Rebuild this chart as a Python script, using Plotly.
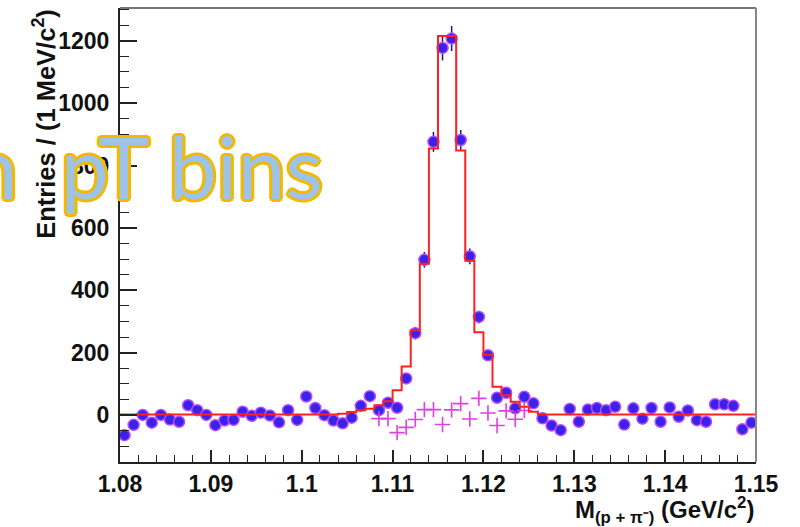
import numpy as np
import plotly.graph_objects as go

# Invariant mass binning: 70 bins of 1 MeV/c^2 between 1.08 and 1.15 GeV/c^2
mass_lo, mass_hi, n_bins = 1.08, 1.15, 70
bin_edges = np.linspace(mass_lo, mass_hi, n_bins + 1)
bin_centers = 0.5 * (bin_edges[:-1] + bin_edges[1:])

# Background-subtracted data (entries per bin)
data_counts = [
    -64, -31, 1, -24, 1, -14, -21, 32, 16, 1,
    -32, -17, -15, 11, -2, 8, -1, -23, 16, -15,
    60, 23, 0, -17, -26, -8, 30, 61, 16, 40,
    24, 118, 263, 498, 876, 1177, 1207, 882, 509, 315,
    192, 56, 72, 22, 59, 38, -10, -33, -48, 20,
    -21, 18, 23, 16, 27, -30, 22, -11, 23, -21,
    25, -5, 15, -16, -21, 35, 35, 30, -45, -24,
]
data_errors = [
    14, 14, 14, 14, 14, 14, 14, 14, 14, 14,
    14, 14, 14, 14, 14, 14, 14, 14, 14, 14,
    14, 14, 14, 14, 14, 14, 14, 14, 14, 14,
    15, 17, 20, 25, 32, 40, 40, 32, 25, 20,
    17, 15, 14, 14, 14, 14, 14, 14, 14, 14,
    14, 14, 14, 14, 14, 14, 14, 14, 14, 14,
    14, 14, 14, 14, 14, 14, 14, 14, 14, 14,
]

# Signal template (step histogram)
model_counts = [
    2, 2, 2, 2, 2, 2, 2, 2, 2, 2,
    2, 2, 2, 2, 2, 2, 2, 2, 2, 2,
    2, 2, 2, 2, 5, 10, 16, 21, 32, 45,
    80, 156, 272, 485, 855, 1215, 1215, 848, 495, 266,
    194, 91, 64, 43, 27, 11, 2, 2, 2, 2,
    2, 2, 2, 2, 2, 2, 2, 2, 2, 2,
    2, 2, 2, 2, 2, 2, 2, 2, 2, 2,
]

# Residual entries in the peak window (bins 28..44)
resid_first_bin = 28
resid_counts = [-11, -11, -56, -39, -14, 18, 18, -30, 17, 37, -12, 54, 7, -33, 14, -13, 15]

y_ticks = [0, 200, 400, 600, 800, 1000, 1200]
x_ticks = [1.08, 1.09, 1.10, 1.11, 1.12, 1.13, 1.14, 1.15]
x_tick_text = ["1.08", "1.09", "1.1", "1.11", "1.12", "1.13", "1.14", "1.15"]

fig = go.Figure()

fig.add_trace(go.Scatter(
    x=bin_centers, y=data_counts, mode="markers",
    marker=dict(symbol="circle", size=11, color="#3a22e8",
                line=dict(color="#b64cff", width=1.5)),
    error_y=dict(type="data", array=data_errors, visible=True,
                 color="#1b1a70", thickness=1.5, width=0),
    showlegend=False,
))

resid_x = bin_centers[resid_first_bin:resid_first_bin + len(resid_counts)]
fig.add_trace(go.Scatter(
    x=resid_x, y=resid_counts, mode="markers",
    marker=dict(symbol="cross-thin", size=11,
                line=dict(color="#e040e0", width=1.6)),
    showlegend=False,
))

fig.add_trace(go.Scatter(
    x=bin_edges, y=list(model_counts) + [model_counts[-1]],
    mode="lines", line=dict(color="#ff2020", width=2, shape="hv"),
    showlegend=False,
))

tick_font = dict(family="Liberation Sans", size=23, color="#111111", weight="bold")

fig.update_xaxes(
    range=[mass_lo, mass_hi], tickvals=x_ticks, ticktext=x_tick_text,
    ticks="inside", ticklen=12, tickwidth=1.5, tickcolor="#222",
    minor=dict(dtick=0.002, ticks="inside", ticklen=7, tickwidth=1.2, tickcolor="#222"),
    showline=True, linecolor="#222", linewidth=2,
    showgrid=False, zeroline=False, tickfont=tick_font, ticklabelstandoff=0,
)
fig.update_yaxes(
    range=[-150, 1305], tickvals=y_ticks,
    ticks="inside", ticklen=17, tickwidth=1.5, tickcolor="#222",
    minor=dict(dtick=50, tick0=0, ticks="inside", ticklen=9, tickwidth=1.2, tickcolor="#222"),
    showline=True, linecolor="#222", linewidth=2,
    showgrid=False, zeroline=False, tickfont=tick_font, ticklabelstandoff=4,
)

# Top and right frame edges
fig.add_shape(type="line", xref="paper", yref="paper", x0=0, x1=1, y0=1, y1=1,
              line=dict(color="#777777", width=2))
fig.add_shape(type="line", xref="paper", yref="paper", x0=1, x1=1, y0=0, y1=1,
              line=dict(color="#888888", width=2))

fig.add_annotation(
    text="Entries / (1 MeV/c<sup>2</sup>)", textangle=-90,
    xref="paper", yref="paper", x=-0.1195, y=0.745,
    xanchor="center", yanchor="middle", showarrow=False,
    font=dict(family="Liberation Sans", size=25.5, color="#111111", weight="bold"),
)
fig.add_annotation(
    text="M<sub>(p + π⁻)</sub> (GeV/c<sup>2</sup>)",
    xref="paper", yref="paper", x=1.0, y=-0.106,
    xanchor="right", yanchor="middle", showarrow=False,
    font=dict(family="Liberation Sans", size=24, color="#111111", weight="bold"),
)

# Slide caption laid over the figure
outline = "#f5b800"
shadow = ", ".join(f"{dx}px {dy}px 0 {outline}" for dx, dy in
                   [(2, 0), (-2, 0), (0, 2), (0, -2), (2, 2), (-2, -2), (2, -2), (-2, 2),
                    (3, 0), (-3, 0), (0, 3), (0, -3)])
fig.add_annotation(
    text="in\u2002pT bins", xref="paper", yref="paper", x=0.322, y=0.652,
    xanchor="right", yanchor="middle", showarrow=False,
    font=dict(family="Lato", size=86, color="#9dc3e6", shadow=shadow),
)

fig.update_layout(
    width=800, height=527,
    margin=dict(l=120, r=44, t=8, b=65),
    paper_bgcolor="white", plot_bgcolor="white",
)

fig.write_html("out.html")
